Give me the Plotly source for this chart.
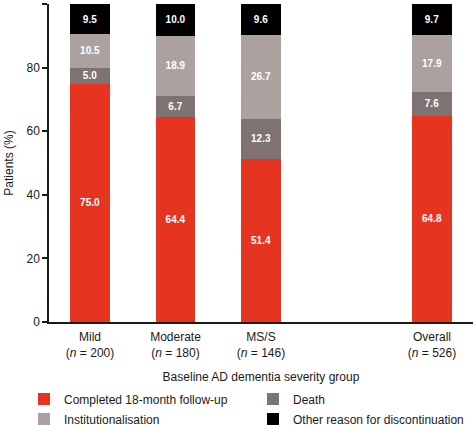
import plotly.graph_objects as go

categories = ["Mild", "Moderate", "MS/S", "Overall"]
n_values = [200, 180, 146, 526]
x_positions = [0, 1, 2, 4]
completed = [75.0, 64.4, 51.4, 64.8]
death = [5.0, 6.7, 12.3, 7.6]
institutionalisation = [10.5, 18.9, 26.7, 17.9]
other = [9.5, 10.0, 9.6, 9.7]
y_ticks = [0, 20, 40, 60, 80, 100]

FONT = "Arial, Liberation Sans, sans-serif"
W, H = 473, 426
# name, values, colour, legend id, legend text-left px, legend row centre px
series = [
    ("Completed 18-month follow-up", completed, "#E5341F", "legend", 64, 399),
    ("Death", death, "#7E7372", "legend2", 293, 399),
    ("Institutionalisation", institutionalisation, "#ABA29F", "legend3", 64, 419),
    ("Other reason for discontinuation", other, "#000000", "legend4", 293, 419),
]

fig = go.Figure()
legends = {}
for name, vals, color, lg, tx, ty in series:
    fig.add_trace(go.Bar(
        x=x_positions, y=vals, name=name, width=0.46,
        marker=dict(color=color, line=dict(width=0)),
        text=[f"{v:.1f}" for v in vals], textposition="inside",
        insidetextanchor="middle", textangle=0,
        textfont=dict(family=FONT, size=10, color="white", weight="bold"),
        legend=lg, hoverinfo="skip",
    ))
    legends[lg] = dict(
        orientation="h", xref="container", yref="container",
        x=(tx - 40) / W, xanchor="left", y=1 - ty / H, yanchor="middle",
        font=dict(size=12, color="#1a1a1a"), itemwidth=30,
        bgcolor="rgba(0,0,0,0)", borderwidth=0,
    )

ticktext = [f"{c}<br>(<i>n</i> = {n})" for c, n in zip(categories, n_values)]

fig.update_layout(
    barmode="stack",
    width=W, height=H,
    margin=dict(l=49, r=0, t=4, b=104, autoexpand=False),
    paper_bgcolor="white", plot_bgcolor="white",
    font=dict(family=FONT, size=12, color="#1a1a1a"),
    showlegend=True,
    uniformtext=dict(minsize=10, mode="show"),
    xaxis=dict(
        range=[-0.48, 4.48], tickvals=x_positions, ticktext=ticktext,
        showline=True, linecolor="#1a1a1a", linewidth=1.5,
        ticks="", showgrid=False, zeroline=False, ticklabelstandoff=3,
        title=dict(text="Baseline AD dementia severity group", standoff=17,
                   font=dict(size=12)),
        tickfont=dict(size=12),
    ),
    yaxis=dict(
        range=[0, 100], tickvals=y_ticks,
        showline=True, linecolor="#1a1a1a", linewidth=1.5,
        ticks="outside", ticklen=5, tickwidth=1.5, tickcolor="#1a1a1a",
        showgrid=False, zeroline=False,
        title=dict(text="Patients (%)", standoff=10, font=dict(size=12)),
        tickfont=dict(size=12),
    ),
    **legends,
)

fig.write_html(
    "out.html",
    config={"displayModeBar": False},
    post_script="document.body.style.margin='0';document.body.style.overflow='hidden';",
)
